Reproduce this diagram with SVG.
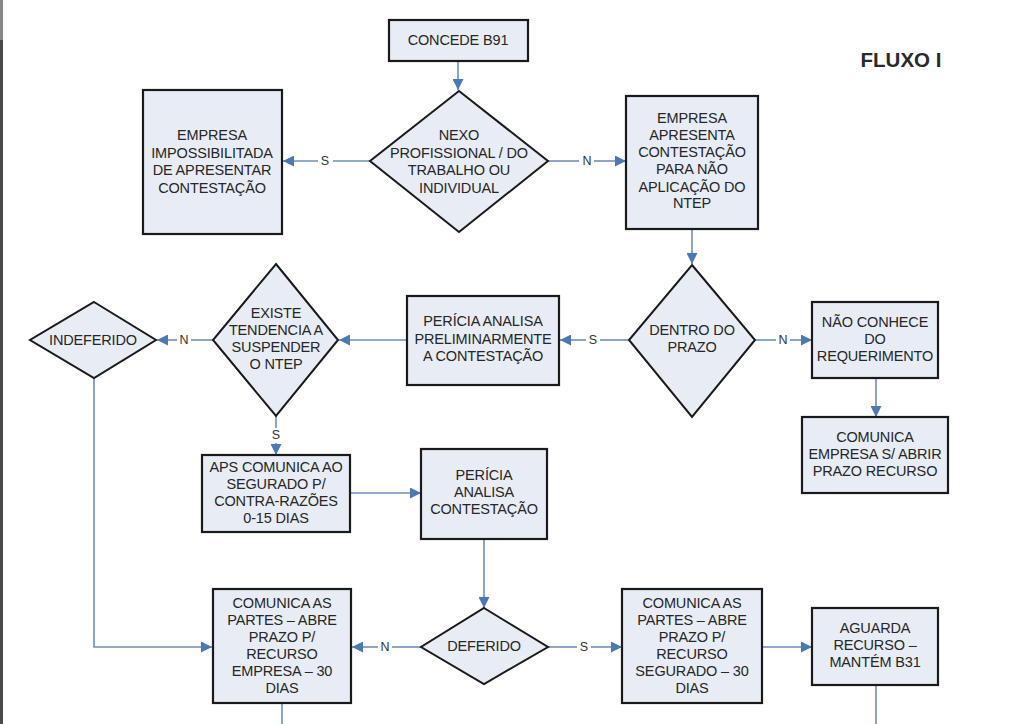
<svg xmlns="http://www.w3.org/2000/svg" width="1024" height="724" viewBox="0 0 1024 724">
<style>
.box{fill:#e8edf5;stroke:#1a1a1a;stroke-width:2.2}
.dia{fill:#e8edf5;stroke:#1a1a1a;stroke-width:2}
.t{font-family:"Liberation Sans",Arial,sans-serif;font-size:14.5px;fill:#262626;text-anchor:middle;dominant-baseline:central;letter-spacing:-0.15px}
.lbl{font-family:"Liberation Sans",Arial,sans-serif;font-size:12.5px;fill:#333;text-anchor:middle;dominant-baseline:central}
.c{fill:none;stroke:#6d8ebf;stroke-width:1.6}
</style>
<defs>
<marker id="a" viewBox="0 0 10 10" refX="10" refY="5" markerWidth="11" markerHeight="11" orient="auto" markerUnits="userSpaceOnUse">
<path d="M0,0 L10,5 L0,10 z" fill="#4a78b8"/>
</marker>
</defs>
<rect width="1024" height="724" fill="#ffffff"/>
<rect x="0" y="0" width="3" height="40" fill="#888"/>
<rect x="0" y="40" width="3" height="684" fill="#4a4a4a"/>

<g id="connectors">
<line class="c" x1="458" y1="61" x2="458" y2="90" marker-end="url(#a)"/>
<line class="c" x1="370" y1="161" x2="333" y2="161"/>
<line class="c" x1="318" y1="161" x2="283" y2="161" marker-end="url(#a)"/>
<text class="lbl" x="325" y="161">S</text>
<line class="c" x1="548" y1="161" x2="579" y2="161"/>
<line class="c" x1="594" y1="161" x2="626" y2="161" marker-end="url(#a)"/>
<text class="lbl" x="587" y="161">N</text>
<line class="c" x1="692" y1="229" x2="692" y2="264" marker-end="url(#a)"/>
<line class="c" x1="629" y1="340" x2="600" y2="340"/>
<line class="c" x1="586" y1="340" x2="560" y2="340" marker-end="url(#a)"/>
<text class="lbl" x="593" y="340">S</text>
<line class="c" x1="755" y1="340" x2="776" y2="340"/>
<line class="c" x1="790" y1="340" x2="812" y2="340" marker-end="url(#a)"/>
<text class="lbl" x="783" y="340">N</text>
<line class="c" x1="876" y1="378" x2="876" y2="417" marker-end="url(#a)"/>
<line class="c" x1="407" y1="340" x2="339" y2="340" marker-end="url(#a)"/>
<line class="c" x1="213" y1="340" x2="191" y2="340"/>
<line class="c" x1="177" y1="340" x2="157" y2="340" marker-end="url(#a)"/>
<text class="lbl" x="184" y="340">N</text>
<line class="c" x1="276" y1="416" x2="276" y2="428"/>
<line class="c" x1="276" y1="443" x2="276" y2="455" marker-end="url(#a)"/>
<text class="lbl" x="276" y="435">S</text>
<line class="c" x1="351" y1="493" x2="421" y2="493" marker-end="url(#a)"/>
<polyline class="c" points="94,378 94,647 212,647" marker-end="url(#a)"/>
<line class="c" x1="484" y1="539" x2="484" y2="608" marker-end="url(#a)"/>
<line class="c" x1="421" y1="647" x2="392" y2="647"/>
<line class="c" x1="378" y1="647" x2="352" y2="647" marker-end="url(#a)"/>
<text class="lbl" x="385" y="647">N</text>
<line class="c" x1="548" y1="647" x2="577" y2="647"/>
<line class="c" x1="591" y1="647" x2="622" y2="647" marker-end="url(#a)"/>
<text class="lbl" x="584" y="647">S</text>
<line class="c" x1="762" y1="647" x2="812" y2="647" marker-end="url(#a)"/>
<line class="c" x1="282" y1="703" x2="282" y2="724"/>
<line class="c" x1="876" y1="685" x2="876" y2="724"/>
</g>

<g id="title">
<text x="901" y="59" font-family="Liberation Sans,Arial,sans-serif" font-size="20.5" font-weight="bold" fill="#2a2a2a" text-anchor="middle" dominant-baseline="central">FLUXO I</text>
</g>

<g id="concede">
<rect class="box" x="389" y="20" width="139" height="41"/>
<text class="t" x="458" y="40">CONCEDE B91</text>
</g>

<g id="nexo">
<polygon class="dia" points="459,91 548,161 459,232 370,161"/>
<text class="t" x="459" y="135">NEXO</text>
<text class="t" x="459" y="152.5">PROFISSIONAL / DO</text>
<text class="t" x="459" y="170">TRABALHO OU</text>
<text class="t" x="459" y="187.5">INDIVIDUAL</text>
</g>

<g id="impossibilitada">
<rect class="box" x="143" y="90" width="139" height="144"/>
<text class="t" x="212" y="135">EMPRESA</text>
<text class="t" x="212" y="152.5">IMPOSSIBILITADA</text>
<text class="t" x="212" y="170">DE APRESENTAR</text>
<text class="t" x="212" y="187.5">CONTESTAÇÃO</text>
</g>

<g id="apresenta">
<rect class="box" x="626" y="96" width="132" height="133"/>
<text class="t" x="692" y="118">EMPRESA</text>
<text class="t" x="692" y="135">APRESENTA</text>
<text class="t" x="692" y="152">CONTESTAÇÃO</text>
<text class="t" x="692" y="169">PARA NÃO</text>
<text class="t" x="692" y="186.5">APLICAÇÃO DO</text>
<text class="t" x="692" y="203">NTEP</text>
</g>

<g id="dentro">
<polygon class="dia" points="692,265 755,340 692,417 629,340"/>
<text class="t" x="692" y="330">DENTRO DO</text>
<text class="t" x="692" y="347">PRAZO</text>
</g>

<g id="naoconhece">
<rect class="box" x="812" y="302" width="126" height="76"/>
<text class="t" x="875" y="322">NÃO CONHECE</text>
<text class="t" x="875" y="339">DO</text>
<text class="t" x="875" y="356">REQUERIMENTO</text>
</g>

<g id="comunicaempresa">
<rect class="box" x="802" y="417" width="146" height="76"/>
<text class="t" x="875" y="437">COMUNICA</text>
<text class="t" x="875" y="454">EMPRESA S/ ABRIR</text>
<text class="t" x="875" y="471">PRAZO RECURSO</text>
</g>

<g id="periciapre">
<rect class="box" x="407" y="296" width="152" height="89"/>
<text class="t" x="483" y="321">PERÍCIA ANALISA</text>
<text class="t" x="483" y="338.5">PRELIMINARMENTE</text>
<text class="t" x="483" y="356">A CONTESTAÇÃO</text>
</g>

<g id="existe">
<polygon class="dia" points="276,264 338,340 276,416 213,340"/>
<text class="t" x="276" y="313">EXISTE</text>
<text class="t" x="276" y="330">TENDENCIA A</text>
<text class="t" x="276" y="347">SUSPENDER</text>
<text class="t" x="276" y="364">O NTEP</text>
</g>

<g id="indeferido">
<polygon class="dia" points="94,302 156,340 94,378 30,340"/>
<text class="t" x="93" y="340">INDEFERIDO</text>
</g>

<g id="aps">
<rect class="box" x="202" y="455" width="148" height="77"/>
<text class="t" x="276" y="467">APS COMUNICA AO</text>
<text class="t" x="276" y="484">SEGURADO P/</text>
<text class="t" x="276" y="501">CONTRA-RAZÕES</text>
<text class="t" x="276" y="518">0-15 DIAS</text>
</g>

<g id="periciacont">
<rect class="box" x="421" y="449" width="126" height="90"/>
<text class="t" x="484" y="475">PERÍCIA</text>
<text class="t" x="484" y="492">ANALISA</text>
<text class="t" x="484" y="509">CONTESTAÇÃO</text>
</g>

<g id="deferido">
<polygon class="dia" points="484,608 548,647 484,684 421,647"/>
<text class="t" x="484" y="646">DEFERIDO</text>
</g>

<g id="comunicaempresa30">
<rect class="box" x="213" y="589" width="138" height="114"/>
<text class="t" x="282" y="603">COMUNICA AS</text>
<text class="t" x="282" y="620">PARTES – ABRE</text>
<text class="t" x="282" y="637">PRAZO P/</text>
<text class="t" x="282" y="654">RECURSO</text>
<text class="t" x="282" y="671">EMPRESA – 30</text>
<text class="t" x="282" y="688">DIAS</text>
</g>

<g id="comunicasegurado30">
<rect class="box" x="622" y="589" width="140" height="114"/>
<text class="t" x="692" y="603">COMUNICA AS</text>
<text class="t" x="692" y="620">PARTES – ABRE</text>
<text class="t" x="692" y="637">PRAZO P/</text>
<text class="t" x="692" y="654">RECURSO</text>
<text class="t" x="692" y="671">SEGURADO – 30</text>
<text class="t" x="692" y="688">DIAS</text>
</g>

<g id="aguarda">
<rect class="box" x="812" y="608" width="126" height="77"/>
<text class="t" x="875" y="628">AGUARDA</text>
<text class="t" x="875" y="645">RECURSO –</text>
<text class="t" x="875" y="662">MANTÉM B31</text>
</g>
</svg>
